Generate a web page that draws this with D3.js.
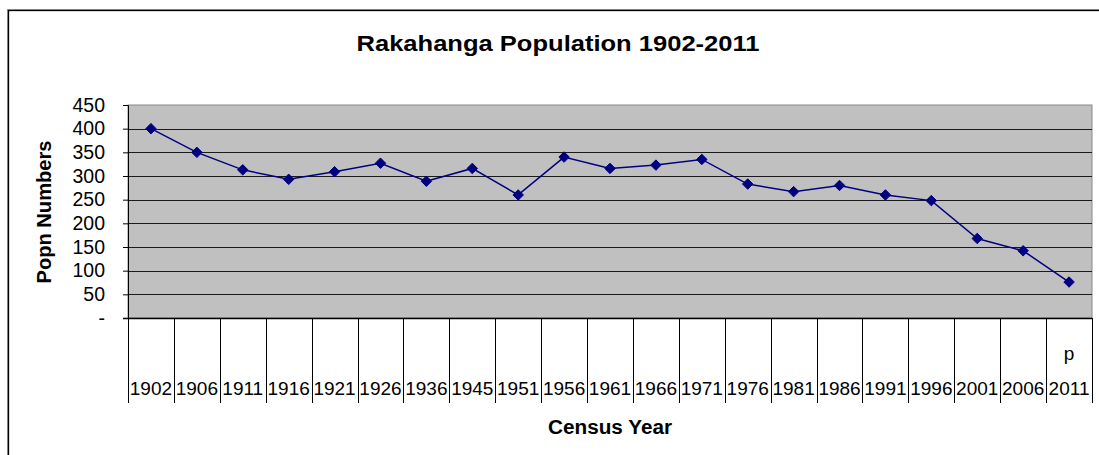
<!DOCTYPE html>
<html>
<head>
<meta charset="utf-8">
<script src="https://cdn.jsdelivr.net/npm/d3@7"></script>
<style>
  body { margin: 0; background: #fff; }
  svg { display: block; font-family: Arial, "Liberation Sans", sans-serif; }
</style>
</head>
<body>
<svg id="chart" width="1099" height="455"></svg>
<script>
// census years and population
var years = ["1902","1906","1911","1916","1921","1926","1936","1945","1951","1956","1961",
             "1966","1971","1976","1981","1986","1991","1996","2001","2006","2011"];
var popn = [400,350,313,293,309,327,289,316,260,340,316,
            323,335,283,267,280,260,248,168,142,76];
var yTicks = [0,50,100,150,200,250,300,350,400,450];
var provisional = ["2011"];

var svg = d3.select("#chart");

var plot = {left: 128, right: 1092, top: 105, bottom: 318};

var x = d3.scaleBand().domain(years).range([plot.left, plot.right]).paddingInner(0).paddingOuter(0);
var y = d3.scaleLinear().domain([0, 450]).range([plot.bottom, plot.top]);

// outer frame (runs off the bottom/right edge)
svg.append("rect").attr("x", 7.5).attr("y", 9.5).attr("width", 1200).attr("height", 600)
  .attr("fill", "none").attr("stroke", "#999").attr("stroke-width", 1);
svg.append("rect").attr("x", 8.5).attr("y", 10.5).attr("width", 1200).attr("height", 600)
  .attr("fill", "none").attr("stroke", "#000").attr("stroke-width", 1.3);

// title
svg.append("text").attr("x", 558).attr("y", 51).attr("text-anchor", "middle")
  .attr("font-size", 22).attr("font-weight", "bold")
  .attr("textLength", 403).attr("lengthAdjust", "spacingAndGlyphs")
  .text("Rakahanga Population 1902-2011");

// plot background
svg.append("rect").attr("x", plot.left).attr("y", plot.top)
  .attr("width", plot.right - plot.left).attr("height", plot.bottom - plot.top)
  .attr("fill", "#c0c0c0").attr("stroke", "#888").attr("stroke-width", 1);

// gridlines
svg.append("g").selectAll("line").data(yTicks.filter(function(d){ return d > 0 && d < 450; }))
  .enter().append("line")
  .attr("x1", plot.left).attr("x2", plot.right)
  .attr("y1", function(d){ return Math.round(y(d)) + 0.5; })
  .attr("y2", function(d){ return Math.round(y(d)) + 0.5; })
  .attr("stroke", "#1a1a1a").attr("stroke-width", 1);

// y axis
var yAxis = d3.axisLeft(y).tickValues(yTicks).tickSize(5).tickPadding(6)
  .tickFormat(function(d){ return d === 0 ? "-" : d; });
var gy = svg.append("g").attr("transform", "translate(" + plot.left + ",0)").call(yAxis);
gy.select(".domain").attr("stroke", "#000");
gy.selectAll(".tick line").attr("stroke", "#000");
gy.selectAll(".tick text").attr("font-size", 19.5).attr("font-family", "Arial, 'Liberation Sans', sans-serif")
  .attr("fill", "#000").attr("dx", -12);

// bottom axis line
svg.append("line").attr("x1", plot.left - 5).attr("x2", plot.right)
  .attr("y1", plot.bottom + 0.5).attr("y2", plot.bottom + 0.5).attr("stroke", "#000").attr("stroke-width", 1.3);

// category separators
var edges = years.map(function(d){ return x(d); }).concat([x(years[years.length - 1]) + x.bandwidth()]);
svg.append("g").selectAll("line").data(edges).enter().append("line")
  .attr("x1", function(d){ return Math.round(d) + 0.5; })
  .attr("x2", function(d){ return Math.round(d) + 0.5; })
  .attr("y1", plot.bottom).attr("y2", 403)
  .attr("stroke", "#000").attr("stroke-width", 1);

// category labels
svg.append("g").selectAll("text").data(years).enter().append("text")
  .attr("x", function(d){ return x(d) + x.bandwidth() / 2; })
  .attr("y", 395).attr("text-anchor", "middle").attr("font-size", 19)
  .text(function(d){ return d; });

svg.append("g").selectAll("text").data(provisional).enter().append("text")
  .attr("x", function(d){ return x(d) + x.bandwidth() / 2; })
  .attr("y", 360).attr("text-anchor", "middle").attr("font-size", 19)
  .text("p");

// axis titles
svg.append("text").attr("x", 610).attr("y", 434).attr("text-anchor", "middle")
  .attr("font-size", 20).attr("font-weight", "bold")
  .attr("textLength", 124).attr("lengthAdjust", "spacingAndGlyphs")
  .text("Census Year");
svg.append("text").attr("transform", "translate(51,212) rotate(-90)").attr("text-anchor", "middle")
  .attr("font-size", 20).attr("font-weight", "bold")
  .attr("textLength", 143).attr("lengthAdjust", "spacingAndGlyphs")
  .text("Popn Numbers");

// series line
var line = d3.line()
  .x(function(d, i){ return x(years[i]) + x.bandwidth() / 2; })
  .y(function(d){ return y(d); });
svg.append("path").datum(popn).attr("d", line)
  .attr("fill", "none").attr("stroke", "#000080").attr("stroke-width", 1.5);

// diamond markers
var diamond = d3.symbol().type(d3.symbolDiamond2).size(70);
svg.append("g").selectAll("path").data(popn).enter().append("path")
  .attr("d", diamond)
  .attr("transform", function(d, i){ return "translate(" + (x(years[i]) + x.bandwidth() / 2) + "," + y(d) + ")"; })
  .attr("fill", "#000080").attr("stroke", "#000080").attr("stroke-width", 1);
</script>
</body>
</html>
